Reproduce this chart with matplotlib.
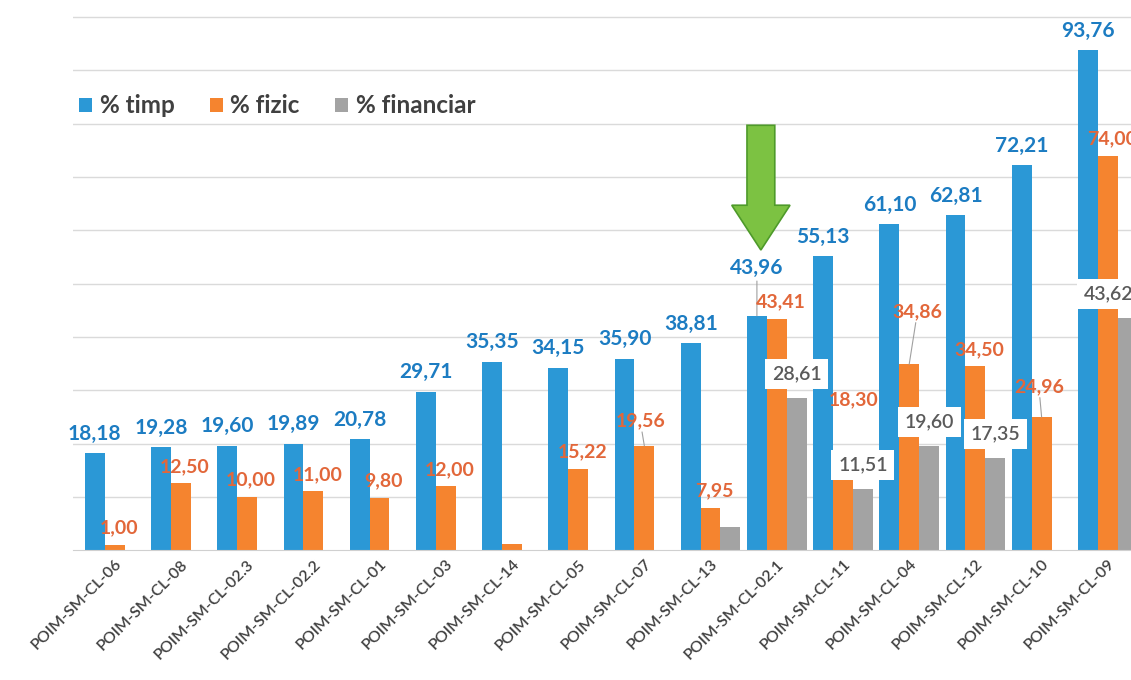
import numpy as np
import matplotlib.pyplot as plt
from matplotlib.patches import FancyArrow

DPI = 100

# Data.
projects = ['POIM-SM-CL-06', 'POIM-SM-CL-08', 'POIM-SM-CL-02.3', 'POIM-SM-CL-02.2',
            'POIM-SM-CL-01', 'POIM-SM-CL-03', 'POIM-SM-CL-14', 'POIM-SM-CL-05',
            'POIM-SM-CL-07', 'POIM-SM-CL-13', 'POIM-SM-CL-02.1', 'POIM-SM-CL-11',
            'POIM-SM-CL-04', 'POIM-SM-CL-12', 'POIM-SM-CL-10', 'POIM-SM-CL-09']
timp = [18.18, 19.28, 19.60, 19.89, 20.78, 29.71, 35.35, 34.15,
        35.90, 38.81, 43.96, 55.13, 61.10, 62.81, 72.21, 93.76]
fizic = [1.00, 12.50, 10.00, 11.00, 9.80, 12.00, 1.10, 15.22,
         19.56, 7.95, 43.41, 18.30, 34.86, 34.50, 24.96, 74.00]
financiar = [0, 0, 0, 0, 0, 0, 0, 0,
             0, 4.30, 28.61, 11.51, 19.60, 17.35, 0, 43.62]

BLUE, ORANGE, GRAY = '#2B98D6', '#F5842F', '#A3A3A3'
BLUE_TXT, ORANGE_TXT, GRAY_TXT = '#1C7CC2', '#E2673A', '#5A5A5A'

plt.rcParams['font.family'] = ['Lato', 'DejaVu Sans']

fig = plt.figure(figsize=(1131 / DPI, 680 / DPI), dpi=DPI)
ax = fig.add_axes([0.0645, 0.191, 0.9355, 0.809])

x = np.arange(len(projects))
w = 0.3
ax.bar(x - w, timp, w, color=BLUE, label='% timp', zorder=2)
ax.bar(x, fizic, w, color=ORANGE, label='% fizic', zorder=2)
ax.bar(x + w, financiar, w, color=GRAY, label='% financiar', zorder=2)

ax.set_xlim(-0.63, 15.35)
ax.set_ylim(0, 103.2)
ax.set_yticks(np.arange(10, 101, 10))
ax.yaxis.grid(True, color='#DADADA', lw=1)
ax.set_axisbelow(True)
ax.tick_params(axis='y', left=False, labelleft=False)
ax.tick_params(axis='x', length=0, pad=5)
for s in ['top', 'right', 'left']:
    ax.spines[s].set_visible(False)
ax.spines['bottom'].set_color('#D0D0D0')

ax.set_xticks(x)
ax.set_xticklabels(projects, rotation=45, ha='right', va='top',
                   rotation_mode='anchor', fontsize=11.5, fontweight='semibold',
                   color='#404040')


def fmt(v):
    return f'{v:.2f}'.replace('.', ',')


# label offsets (points) that differ from the default, with leader line flag
blue_off = {10: (0, 27, True)}
orange_off = {8: (-3, 12, True), 12: (6, 32, True), 14: (-2, 16, True), 11: (8, 32, False)}
orange_skip = {6}
gray_skip = {9}
leader = dict(arrowstyle='-', color='#A0A0A0', lw=0.8, shrinkA=0, shrinkB=0)

for i, v in enumerate(timp):
    dx, dy, lead = blue_off.get(i, (0, 7, False))
    ax.annotate(fmt(v), (x[i] - w, v), xytext=(dx, dy), textcoords='offset points',
                ha='center', va='bottom', fontsize=15, fontweight='bold', color=BLUE_TXT,
                arrowprops=leader if lead else None, zorder=4)

for i, v in enumerate(fizic):
    if i in orange_skip:
        continue
    dx, dy, lead = orange_off.get(i, (3, 6, False))
    ax.annotate(fmt(v), (x[i], v), xytext=(dx, dy), textcoords='offset points',
                ha='center', va='bottom', fontsize=14, fontweight='bold', color=ORANGE_TXT,
                arrowprops=leader if lead else None, zorder=4)

for i, v in enumerate(financiar):
    if v == 0 or i in gray_skip:
        continue
    dx = -14 if i == len(financiar) - 1 else 0
    ax.annotate(fmt(v), (x[i] + w, v), xytext=(dx, 17), textcoords='offset points',
                ha='center', va='center', fontsize=14, fontweight='semibold', color=GRAY_TXT,
                bbox=dict(boxstyle='square,pad=0.35', fc='white', ec='none'), zorder=5)

# green marker arrow above POIM-SM-CL-02.1
arrow = FancyArrow(x[10] - w + 0.06, 79.7, 0, -23.4, width=0.42, head_width=0.88,
                   head_length=8.4, length_includes_head=True,
                   fc='#7CC242', ec='#4E9A2A', lw=1.2, zorder=6)
ax.add_patch(arrow)

ax.legend(loc='upper left', bbox_to_anchor=(-0.015, 0.868), ncol=3, frameon=False,
          handlelength=0.55, handleheight=0.55, handletextpad=0.3,
          columnspacing=1.45, prop={'weight': 'bold', 'size': 17.5}, labelcolor='#404040')

plt.savefig('out.png', dpi=DPI)
